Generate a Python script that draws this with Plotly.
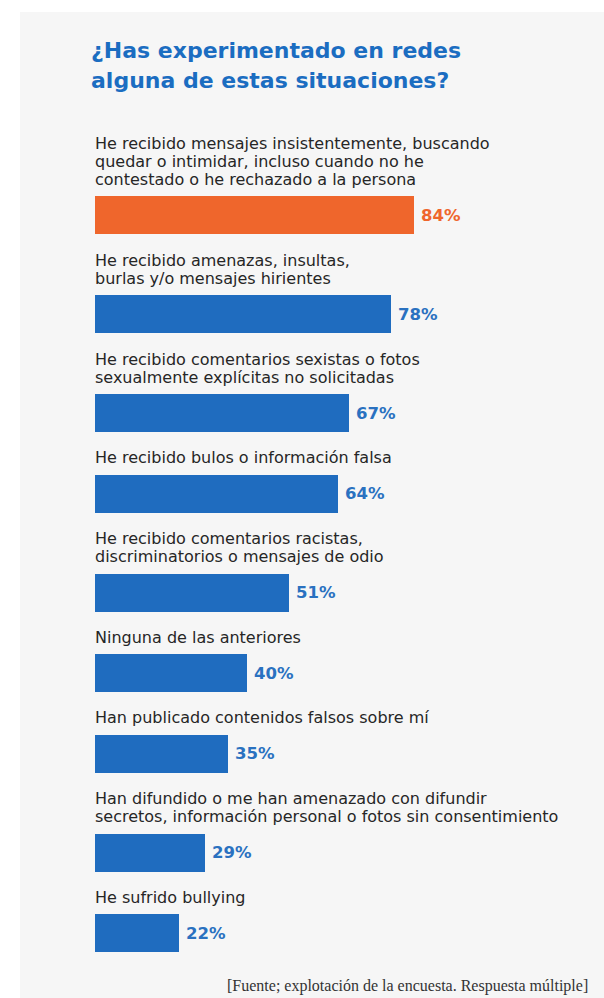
import plotly.graph_objects as go

# ---- data ----
title_lines = ["¿Has experimentado en redes", "alguna de estas situaciones?"]
categories = [
    "He recibido mensajes insistentemente, buscando\nquedar o intimidar, incluso cuando no he\ncontestado o he rechazado a la persona",
    "He recibido amenazas, insultas,\nburlas y/o mensajes hirientes",
    "He recibido comentarios sexistas o fotos\nsexualmente explícitas no solicitadas",
    "He recibido bulos o información falsa",
    "He recibido comentarios racistas,\ndiscriminatorios o mensajes de odio",
    "Ninguna de las anteriores",
    "Han publicado contenidos falsos sobre mí",
    "Han difundido o me han amenazado con difundir\nsecretos, información personal o fotos sin consentimiento",
    "He sufrido bullying",
]
values = [84, 78, 67, 64, 51, 40, 35, 29, 22]
highlight = [True, False, False, False, False, False, False, False, False]
source_text = "[Fuente; explotación de la encuesta. Respuesta múltiple]"

# ---- styling ----
W, H = 604, 998
BLUE = "#1f6cbf"
BLUE_TXT = "#2a71c0"
ORANGE = "#ef662c"
TITLE_BLUE = "#1b6dc1"
TEXT = "#262626"
PANEL = "#f6f6f6"

X0_PX = 95            # pixel where value 0 sits
PX_PER_UNIT = 319 / 84
BAR_T = 38
FIRST_CENTER = 215

# layout positions (y axis in pixel-like units, reversed)
centers = []
c = FIRST_CENTER
for i, cat in enumerate(categories):
    n = len(cat.split("\n"))
    if i > 0:
        c += 80.5 + 18.5 * (n - 1)
    centers.append(c)

colors = [ORANGE if h else BLUE for h in highlight]
txt_colors = [ORANGE if h else BLUE_TXT for h in highlight]

fig = go.Figure()
fig.add_trace(go.Bar(
    x=values, y=centers, orientation="h", width=BAR_T,
    marker=dict(color=colors, line=dict(width=0)),
    hoverinfo="skip",
))

ann = []
for cat, v, yc, tc in zip(categories, values, centers, txt_colors):
    lines = cat.split("\n")
    top = yc - BAR_T / 2
    n = len(lines)
    for k, ln in enumerate(lines):
        ly = top - 17 - 18 * (n - 1 - k)
        ann.append(dict(x=0, y=ly, xref="x", yref="y", text=ln, showarrow=False,
                        xanchor="left", yanchor="middle", xshift=-2,
                        font=dict(family="DejaVu Sans", size=16, color=TEXT)))
    ann.append(dict(x=v, y=yc, xref="x", yref="y", text=f"<b>{v}%</b>", showarrow=False,
                    xanchor="left", yanchor="middle", xshift=5,
                    font=dict(family="DejaVu Sans", size=16.5, color=tc)))

for k, t in enumerate(title_lines):
    ann.append(dict(x=89 / W, y=50 + 30 * k, xref="paper", yref="y", text=f"<b>{t}</b>",
                    showarrow=False, xanchor="left", yanchor="middle",
                    font=dict(family="DejaVu Sans", size=22, color=TITLE_BLUE)))

ann.append(dict(x=225 / W, y=986, xref="paper", yref="y", text=source_text, showarrow=False,
                xanchor="left", yanchor="middle",
                font=dict(family="Liberation Serif", size=16, color="#333333")))

fig.update_layout(
    width=W, height=H, margin=dict(l=0, r=0, t=0, b=0),
    paper_bgcolor="white", plot_bgcolor="rgba(0,0,0,0)",
    showlegend=False, bargap=0,
    xaxis=dict(range=[-X0_PX / PX_PER_UNIT, (W - X0_PX) / PX_PER_UNIT], visible=False, fixedrange=True),
    yaxis=dict(range=[H, 0], visible=False, fixedrange=True),
    annotations=ann,
    shapes=[dict(type="rect", xref="paper", yref="paper", x0=20 / W, x1=1, y0=0, y1=1 - 12 / H,
                 fillcolor=PANEL, line=dict(width=0), layer="below")],
)

fig.write_html("out.html", config={"displayModeBar": False},
               post_script="document.body.style.margin='0';")
